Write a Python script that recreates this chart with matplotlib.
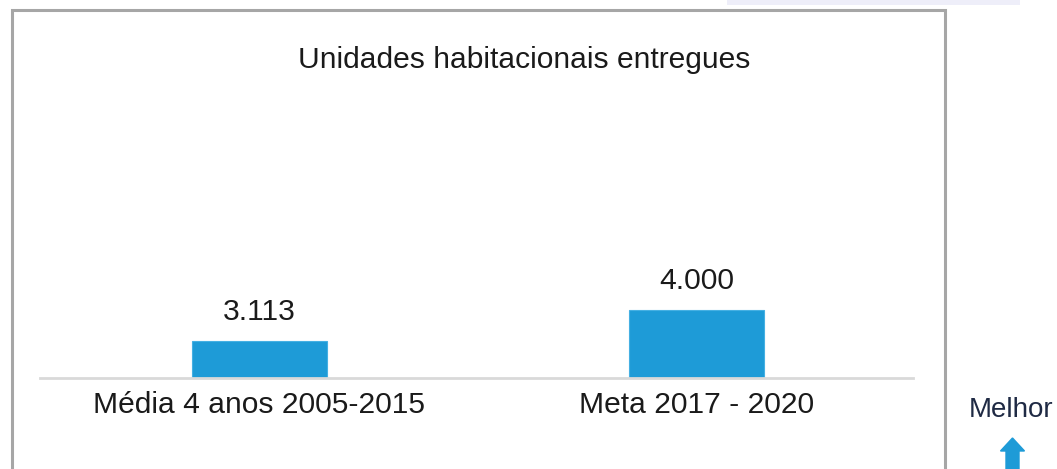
import matplotlib
matplotlib.use("Agg")
import matplotlib.pyplot as plt
from matplotlib.patches import Rectangle, FancyArrow

categories = ["Média 4 anos 2005-2015", "Meta 2017 - 2020"]
values = [3113, 4000]
value_labels = ["3.113", "4.000"]
title = "Unidades habitacionais entregues"
side_label = "Melhor"

plt.rcParams['font.family'] = ['Liberation Sans', 'DejaVu Sans']

W, H = 1057, 469
FS = 21.6
fig = plt.figure(figsize=(W / 100, H / 100), dpi=100)
fig.patch.set_facecolor('white')

# outer frame
fig.patches.append(Rectangle((12 / W, -0.1), (945 - 12) / W, (H - 10) / H + 0.1,
                             transform=fig.transFigure, fill=False,
                             edgecolor='#a6a6a6', linewidth=2.2))
# light band top-right
fig.patches.append(Rectangle((727 / W, (H - 5) / H), (1020 - 727) / W, 5 / H,
                             transform=fig.transFigure, facecolor='#eeeef9',
                             edgecolor='none'))

ax = fig.add_axes([40 / W, (H - 378) / H, (913 - 40) / W, (378 - 10) / H])
ax.set_facecolor('none')
x = list(range(len(categories)))
bars = ax.bar(x, values, width=0.31, color='#1e9bd7', edgecolor='#45b0e3',
              linewidth=0.8, bottom=0)
ax.set_ylim(2054, 12586)
ax.set_xlim(-0.502, 1.495)

for xi, v, lab in zip(x, values, value_labels):
    ax.annotate(lab, (xi, v), xytext=(0, 11), textcoords='offset points',
                ha='center', va='bottom', fontsize=FS, color='#1a1a1a')

ax.set_xticks(x)
ax.set_xticklabels(categories, fontsize=FS, color='#1a1a1a')
ax.tick_params(axis='x', length=0, pad=9)
ax.set_yticks([])
for s in ['top', 'left', 'right']:
    ax.spines[s].set_visible(False)
ax.spines['bottom'].set_color('#d9d9d9')
ax.spines['bottom'].set_linewidth(2)

fig.text(524 / W, (H - 60) / H, title, ha='center', va='center',
         fontsize=FS, color='#1a1a1a')

fig.text(1011 / W, (H - 410) / H, side_label, ha='center', va='center',
         fontsize=20, color='#1f2a44')

fig.patches.append(FancyArrow(1012.5 / W, -0.02, 0, (H - 438) / H + 0.02,
                              width=13 / W, head_width=24 / W,
                              head_length=13 / H, length_includes_head=True,
                              transform=fig.transFigure, color='#1e9bd7'))

fig.savefig('out.png', dpi=100, facecolor='white')
